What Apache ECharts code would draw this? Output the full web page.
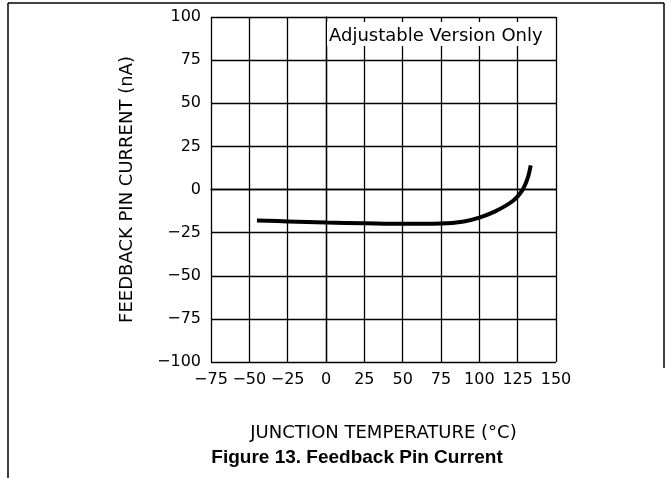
<!DOCTYPE html>
<html>
<head>
<meta charset="utf-8">
<script src="https://cdn.jsdelivr.net/npm/echarts@6/dist/echarts.min.js"></script>
<style>html,body{margin:0;padding:0;background:#fff}#c{width:671px;height:478px}</style>
</head>
<body>
<div id="c"></div>
<script>
var temperature = [-45, -25, 0, 25, 50, 75, 90, 100, 110, 117, 122, 125, 128, 130, 132, 133.5];
var current     = [-18, -18.5, -19.2, -19.6, -19.9, -19.7, -18.5, -16.3, -12.8, -9.5, -6.5, -4, -0.5, 3, 8, 14];
var xTicks = [-75, 150, 25];
var yTicks = [-100, 100, 25];
var xName = 'JUNCTION TEMPERATURE (°C)';
var yName = 'FEEDBACK PIN CURRENT (nA)';
var noteText = 'Adjustable Version Only';
var caption = 'Figure 13. Feedback Pin Current';

var pts = temperature.map(function (t, i) { return [t, current[i]]; });
var fmt = function (v) { return v < 0 ? '\u2212' + Math.abs(v) : String(v); };
var lbl = { color: '#000', fontFamily: 'DejaVu Sans', fontSize: 16 };
var nameStyle = { color: '#000', fontFamily: 'DejaVu Sans', fontSize: 18 };

var chart = echarts.init(document.getElementById('c'));
chart.setOption({
  animation: false,
  grid: { left: 211, right: 115, top: 17, bottom: 116 },
  xAxis: {
    type: 'value', min: xTicks[0], max: xTicks[1], interval: xTicks[2],
    name: xName, nameLocation: 'middle', nameGap: 62,
    nameTextStyle: nameStyle,
    axisLine: { show: true, lineStyle: { color: '#000', width: 1.3 } },
    axisTick: { show: false },
    axisLabel: Object.assign({ margin: 10, formatter: fmt }, lbl),
    splitLine: { show: true, lineStyle: { color: '#000', width: 1.3 } }
  },
  yAxis: {
    type: 'value', min: yTicks[0], max: yTicks[1], interval: yTicks[2],
    name: yName, nameLocation: 'middle', nameGap: 75,
    nameTextStyle: nameStyle,
    axisLine: { show: true, lineStyle: { color: '#000', width: 1.3 } },
    axisTick: { show: false },
    axisLabel: Object.assign({ margin: 10, formatter: fmt }, lbl),
    splitLine: { show: true, lineStyle: { color: '#000', width: 1.3 } }
  },
  series: [{
    type: 'line', data: pts, smooth: 0.4, showSymbol: false,
    lineStyle: { color: '#000', width: 4 }, z: 3
  }],
  graphic: [
    { type: 'line', shape: { x1: 8, y1: 3, x2: 664, y2: 3 }, style: { stroke: '#000', lineWidth: 1.5 } },
    { type: 'line', shape: { x1: 8, y1: 3, x2: 8, y2: 478 }, style: { stroke: '#000', lineWidth: 1.5 } },
    { type: 'line', shape: { x1: 664, y1: 3, x2: 664, y2: 368 }, style: { stroke: '#000', lineWidth: 1.5 } },
    { type: 'rect', shape: { x: 327, y: 22, width: 228, height: 24 }, style: { fill: '#fff' }, z: 10 },
    { type: 'text', x: 329, y: 36, z: 11, style: { text: noteText, fill: '#000', font: '18px "DejaVu Sans"', verticalAlign: 'middle' } },
    { type: 'text', x: 357, y: 458, z: 11, style: { text: caption, fill: '#000', font: 'bold 19px "Liberation Sans"', align: 'center', verticalAlign: 'middle' } }
  ]
});
</script>
</body>
</html>
